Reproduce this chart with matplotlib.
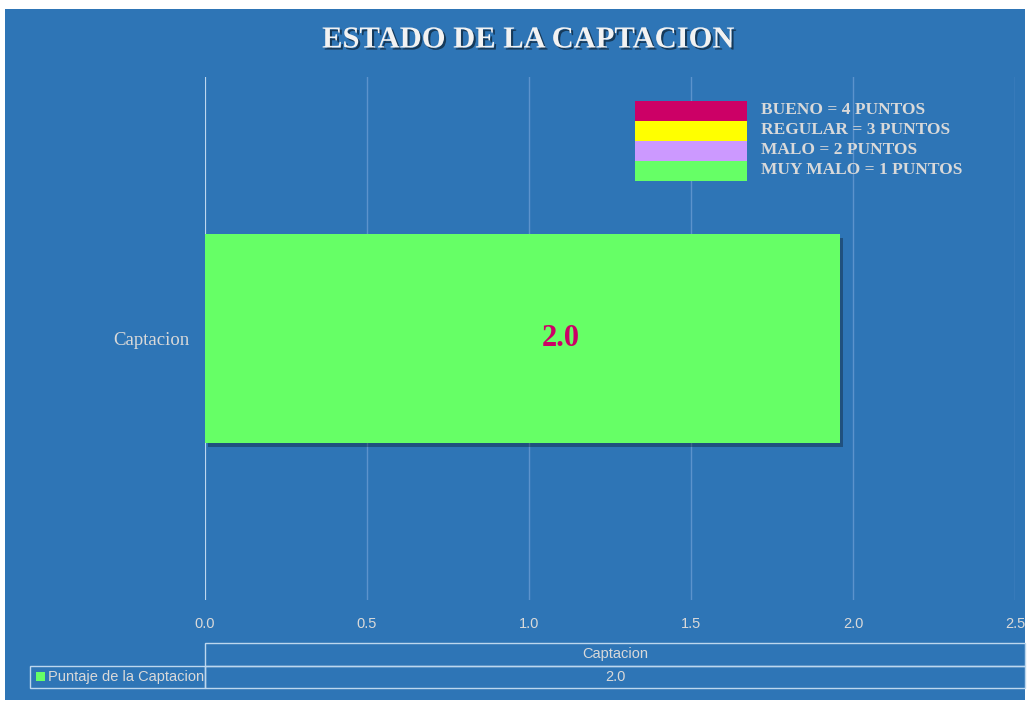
import matplotlib.pyplot as plt
import matplotlib.patheffects as pe
from matplotlib.patches import Rectangle

# data
categories = ['Captacion']
scores = [1.96]
series_name = 'Puntaje de la Captacion'
scale_labels = ['BUENO = 4 PUNTOS', 'REGULAR = 3 PUNTOS', 'MALO = 2 PUNTOS', 'MUY MALO = 1 PUNTOS']
scale_colors = ['#CC0066', '#FFFF00', '#CC99FF', '#66FF66']

bg = '#2E75B6'
txt = '#D9D9D9'
W, H = 1028, 703

fig = plt.figure(figsize=(W / 100, H / 100), dpi=100, facecolor='white')
# blue chart area inside white margin
fig.patches.append(Rectangle((5 / W, 3 / H), 1020 / W, 691 / H, transform=fig.transFigure,
                             facecolor=bg, edgecolor='none', zorder=-10))

ax = fig.add_axes([205 / W, 1 - 600 / H, 810 / W, 523 / H])
ax.set_facecolor(bg)
ax.patch.set_alpha(0)

bars = ax.barh(categories, scores, height=0.4, color='#66FF66', zorder=3,
               path_effects=[pe.SimplePatchShadow(offset=(2, -3), shadow_rgbFace='black', alpha=0.3), pe.Normal()])
for b, v in zip(bars, scores):
    # excel put the label a bit right of the bar centre
    ax.text(b.get_width() * 0.56, b.get_y() + b.get_height() / 2, f'{v:.1f}', ha='center', va='center',
            fontsize=22, fontweight='bold', family='Liberation Serif', color='#CC0066', zorder=4)

ax.set_xlim(0, 2.5)
ax.set_ylim(-0.5, 0.5)
ax.set_xticks([0, 0.5, 1.0, 1.5, 2.0, 2.5])
ax.set_xticklabels(['0.0', '0.5', '1.0', '1.5', '2.0', '2.5'])
ax.grid(axis='x', color='#5C93CC', linewidth=1, zorder=1)
ax.axvline(0, color='#BDD7EE', linewidth=1.5, zorder=2)
for s in ax.spines.values():
    s.set_visible(False)
ax.tick_params(length=0, colors=txt, labelsize=10.5, pad=12)
ax.tick_params(axis='y', labelsize=13.5, pad=11)
for lab in ax.get_xticklabels():
    lab.set_family('Liberation Sans')
for lab in ax.get_yticklabels():
    lab.set_family('Liberation Serif')
    lab.set_color(txt)

# title
fig.text(528 / W, 1 - 40 / H, 'ESTADO DE LA CAPTACION', ha='center', va='center', fontsize=22,
         fontweight='bold', family='Liberation Serif', color='#F2F2F2',
         path_effects=[pe.withSimplePatchShadow(offset=(1.5, -1.5), shadow_rgbFace='black', alpha=0.5)])

# scale legend (image-like block)
x0, x1 = 635 / W, 747 / W
for i, (lab, col) in enumerate(zip(scale_labels, scale_colors)):
    top = 101 + i * 20
    fig.patches.append(Rectangle((x0, 1 - (top + 20) / H), x1 - x0, 20 / H, transform=fig.transFigure,
                                 facecolor=col, edgecolor='none', zorder=5))
    fig.text(761 / W, 1 - (top + 9) / H, lab, ha='left', va='center', fontsize=12.5, fontweight='bold',
             family='Liberation Serif', color=txt)

# data table
tab = ax.table(cellText=[['', categories[0]], [series_name, f'{scores[0]:.1f}']],
               colWidths=[175 / 810, 820 / 810], cellLoc='center',
               bbox=[(30 - 205) / 810, -(688 - 600) / 523, 995 / 810, 45 / 523])
tab.auto_set_font_size(False)
for (r, c), cell in tab.get_celld().items():
    cell.set_facecolor('none')
    cell.set_edgecolor('#BDD7EE')
    cell.set_linewidth(1)
    cell.get_text().set_color(txt)
    cell.get_text().set_fontsize(10.5)
    cell.get_text().set_family('Liberation Sans')
    if r == 0 and c == 0:
        cell.visible_edges = ''
    if r == 1 and c == 0:
        cell._loc = 'left'
        cell.PAD = 18 / 175
        cell.get_text().set_ha('left')
fig.patches.append(Rectangle((36 / W, 1 - 681 / H), 9 / W, 9 / H, transform=fig.transFigure,
                             facecolor='#66FF66', edgecolor='none', zorder=6))

fig.savefig('out.png', dpi=100, facecolor='white')
